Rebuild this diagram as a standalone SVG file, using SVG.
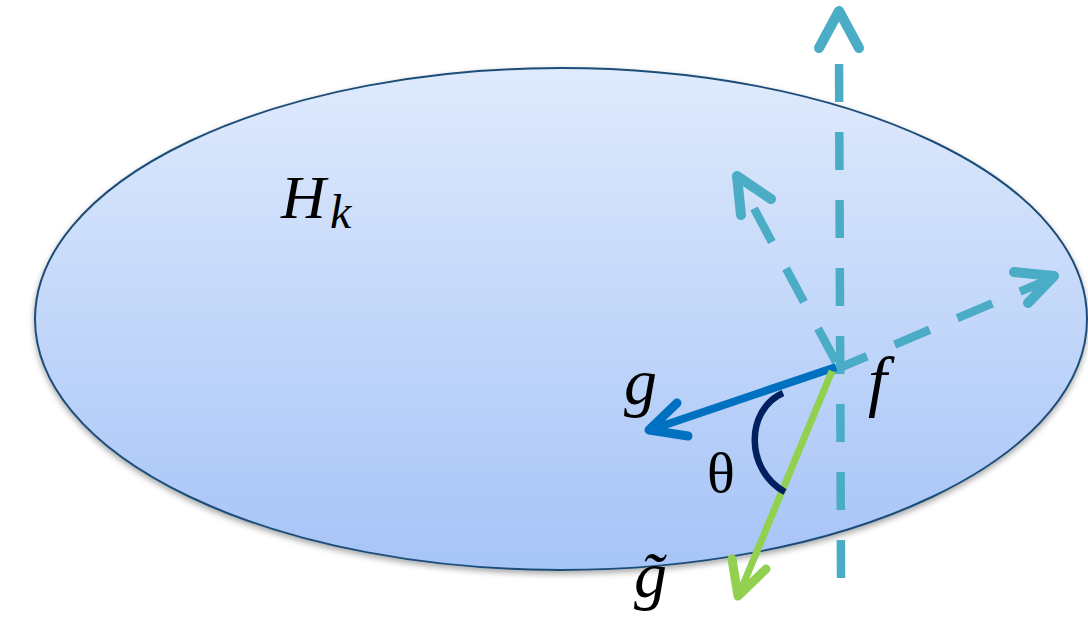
<svg xmlns="http://www.w3.org/2000/svg" width="1088" height="623" viewBox="0 0 1088 623">
<style>
.dash{fill:none;stroke:#4bacc6;stroke-width:8.5;stroke-dasharray:38 30}
.head{fill:none;stroke:#4bacc6;stroke-width:10;stroke-linecap:round;stroke-linejoin:round}
.math{font-family:"Liberation Serif","DejaVu Serif",serif;font-style:italic;fill:#000}
</style>
<defs>
<linearGradient id="fillg" x1="0" y1="0" x2="0" y2="1">
<stop offset="0" stop-color="#dfeafc"/>
<stop offset="1" stop-color="#a6c4f7"/>
</linearGradient>
<filter id="sh" x="-5%" y="-5%" width="110%" height="115%">
<feGaussianBlur in="SourceAlpha" stdDeviation="3"/>
<feOffset dx="0" dy="3" result="b"/>
<feComponentTransfer><feFuncA type="linear" slope="0.35"/></feComponentTransfer>
<feMerge><feMergeNode/><feMergeNode in="SourceGraphic"/></feMerge>
</filter>
</defs>
<rect width="1088" height="623" fill="#fff"/>
<g id="space">
<ellipse cx="561" cy="319" rx="526" ry="251" fill="url(#fillg)" stroke="#1f4e79" stroke-width="2" filter="url(#sh)"/>
<text class="math" x="281" y="218" font-size="62">H</text>
<text class="math" x="330" y="228" font-size="48">k</text>
</g>
<g id="connectors">
<line class="dash" x1="841" y1="578" x2="839" y2="52"/>
<polyline class="head" points="819,48 839,11 859,48"/>
<line class="dash" x1="836" y1="362" x2="742" y2="186"/>
<polyline class="head" points="771,199 737,176 741,215"/>
<line class="dash" x1="832" y1="371" x2="1050" y2="279"/>
<polyline class="head" points="1014,272 1054,276 1028,303"/>
<g id="g-vec">
<line x1="836" y1="367" x2="653" y2="429" stroke="#0070c0" stroke-width="8"/>
<polyline points="677,403 649,430 688,436" fill="none" stroke="#0070c0" stroke-width="9" stroke-linecap="round" stroke-linejoin="round"/>
</g>
<g id="gtilde-vec">
<line x1="832" y1="371" x2="740" y2="592" stroke="#92d050" stroke-width="7"/>
<polyline points="732,559 738,596 766,569" fill="none" stroke="#92d050" stroke-width="9" stroke-linecap="round" stroke-linejoin="round"/>
</g>
<path id="theta-arc" d="M783,393 C745,410 745,470 785,492" fill="none" stroke="#002060" stroke-width="6.5"/>
</g>
<g id="labels">
<text class="math" x="624" y="404" font-size="66">g</text>
<text class="math" x="868" y="404" font-size="68">f</text>
<text x="721" y="492" font-size="58" text-anchor="middle" font-family="Liberation Serif, DejaVu Serif, serif">θ</text>
<text class="math" x="634" y="597" font-size="66">g̃</text>
</g>
</svg>
